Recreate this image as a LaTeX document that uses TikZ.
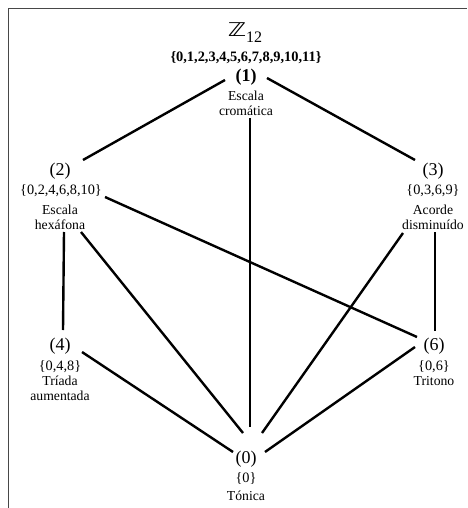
\documentclass[tikz,border=0pt]{standalone}
\usepackage{fontspec}
\setmainfont{Liberation Serif}
\newfontfamily\zfont{DejaVu Sans}
\begin{document}
\begin{tikzpicture}[x=1pt,y=-1pt,
  every node/.style={inner sep=0pt,outer sep=0pt,anchor=base},
  num/.style={font=\fontsize{18}{20}\selectfont},
  numb/.style={font=\fontsize{18}{20}\selectfont\bfseries},
  setx/.style={font=\fontsize{14.3}{16}\selectfont},
  setb/.style={font=\fontsize{14.4}{16}\selectfont\bfseries},
  desc/.style={font=\fontsize{13.7}{15}\selectfont},
  edge/.style={line width=2.4pt,line cap=butt},
  frame/.style={line width=1.5pt,draw=black!72}]
\useasboundingbox (0,0) rectangle (467,508);
\draw[frame] (8.5,508) -- (8.5,8.5) -- (467,8.5);
% vertex 1
\node (z) at (245,37) {{\zfont\fontsize{19}{20}\selectfont\scalebox{1.3}[1]{ℤ}}\raisebox{-6pt}{\fontsize{16}{18}\selectfont 12}};
\node[setb] (s1) at (246,62) {\{0,1,2,3,4,5,6,7,8,9,10,11\}};
\node[numb] (p1) at (246,82) {(1)};
\node[desc] (d1a) at (246,100.5) {Escala};
\node[desc] (d1b) at (246,115.5) {cromática};
% vertex 2
\node[num] (p2) at (60,175) {(2)};
\node[setx] (s2) at (61,194) {\{0,2,4,6,8,10\}};
\node[desc] (d2a) at (60,214) {Escala};
\node[desc] (d2b) at (60,229) {hexáfona};
% vertex 3
\node[num] (p3) at (433,175) {(3)};
\node[setx] (s3) at (433,194) {\{0,3,6,9\}};
\node[desc] (d3a) at (433,214) {Acorde};
\node[desc] (d3b) at (433,229) {disminuído};
% vertex 4
\node[num] (p4) at (60,350) {(4)};
\node[setx] (s4) at (60,370) {\{0,4,8\}};
\node[desc] (d4a) at (60,385) {Tríada};
\node[desc] (d4b) at (60,400) {aumentada};
% vertex 6
\node[num] (p6) at (434,350) {(6)};
\node[setx] (s6) at (434,370) {\{0,6\}};
\node[desc] (d6a) at (434,385) {Tritono};
% vertex 0
\node[num] (p0) at (246,463.5) {(0)};
\node[setx] (s0) at (246,482) {\{0\}};
\node[desc] (d0a) at (246,500) {Tónica};
% edges
\draw[edge] ([shift={(-21,-2)}]p1.base) -- ([shift={(23,-15)}]p2.base);
\draw[edge] ([shift={(21,-4)}]p1.base) -- ([shift={(-18,-15)}]p3.base);
\draw[edge] ([shift={(4,2.5)}]d1b.base) -- ([shift={(4,-36.5)}]p0.base);
\draw[edge] ([shift={(4,3)}]d2b.base) -- ([shift={(3,-20)}]p4.base);
\draw[edge] ([shift={(21,3)}]d2b.base) -- ([shift={(-3,-30.5)}]p0.base);
\draw[edge] ([shift={(44,3)}]s2.base) -- ([shift={(-17,-13)}]p6.base);
\draw[edge] ([shift={(-30,4)}]d3b.base) -- ([shift={(16,-30.5)}]p0.base);
\draw[edge] ([shift={(2,3)}]d3b.base) -- ([shift={(1,-19)}]p6.base);
\draw[edge] ([shift={(22,2)}]p4.base) -- ([shift={(-13,-11.5)}]p0.base);
\draw[edge] ([shift={(-19,-3)}]p6.base) -- ([shift={(19,-11.5)}]p0.base);
\end{tikzpicture}
\end{document}
